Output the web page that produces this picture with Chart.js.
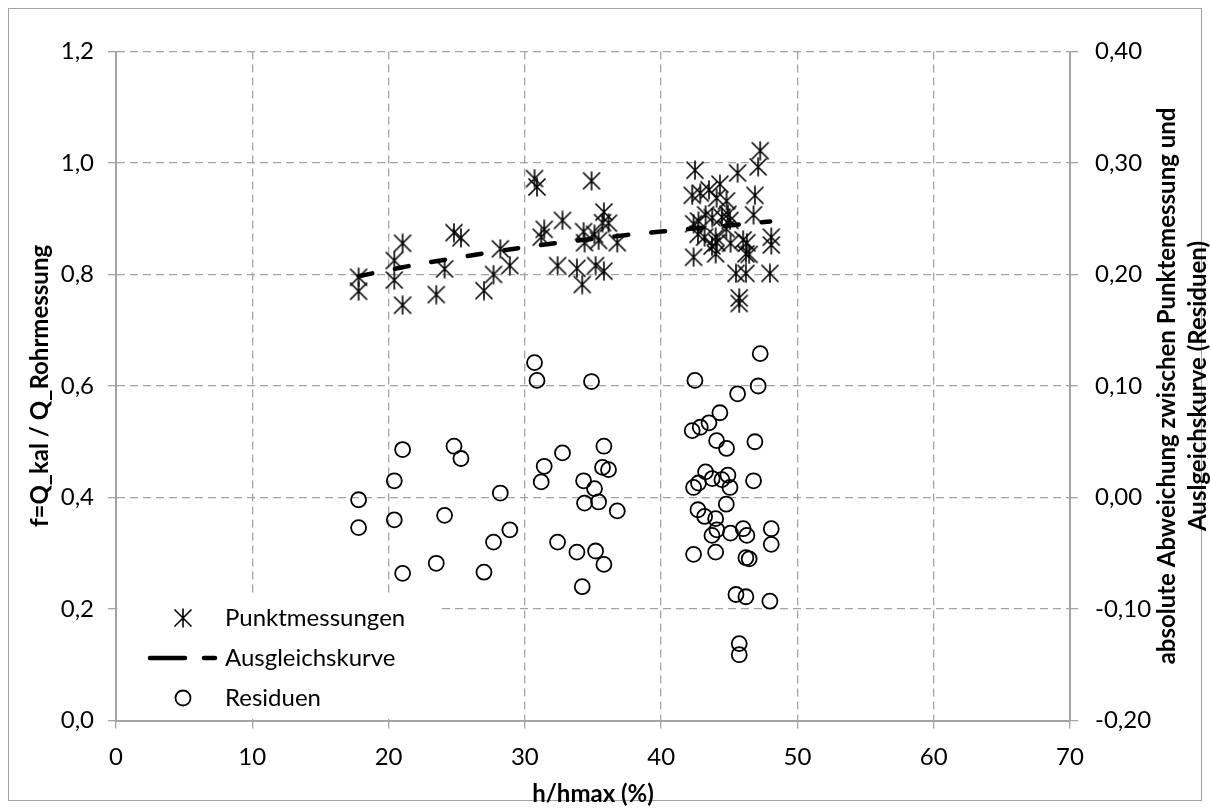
<!DOCTYPE html>
<html>
<head>
<meta charset="utf-8">
<script src="https://cdn.jsdelivr.net/npm/chart.js@4.4.1/dist/chart.umd.min.js"></script>
<style>
  html, body { margin: 0; padding: 0; background: #fff; }
  #wrap { width: 1210px; height: 809px; position: relative; }
</style>
</head>
<body>
<div id="wrap"><canvas id="fChart" width="1210" height="809"></canvas></div>
<script>
// h/hmax (%) der Messungen
const hWerte = [
  30.71, 30.89, 21.03, 24.80, 25.31, 20.42, 17.80, 17.80, 20.42, 24.11,
  28.20, 28.90, 27.70, 21.03, 23.50, 27.00, 31.42, 31.20, 32.76, 32.40,
  34.89, 35.80, 35.70, 36.14, 34.31, 35.11, 34.38, 35.41, 36.78, 33.82,
  35.19, 35.80, 34.21,
  42.48, 47.27, 47.12, 45.61, 44.31, 42.28, 42.87, 43.51, 44.07, 44.80, 46.88,
  43.26, 42.38, 42.74, 43.75, 44.46, 44.90, 45.05, 46.78, 44.78, 42.70,
  43.19, 44.00, 44.09, 43.73, 45.09, 46.02, 46.29, 48.08, 48.08, 42.38,
  44.00, 46.22, 46.46, 45.49, 46.22, 47.98, 45.73, 45.73
];
// f = Q_kal / Q_Rohrmessung
const fWerte = [
  0.972, 0.957, 0.856, 0.875, 0.866, 0.825, 0.795, 0.770, 0.790, 0.810,
  0.846, 0.816, 0.800, 0.745, 0.764, 0.771, 0.881, 0.867, 0.897, 0.816,
  0.968, 0.912, 0.893, 0.892, 0.877, 0.872, 0.857, 0.861, 0.857, 0.811,
  0.816, 0.806, 0.782,
  0.987, 1.022, 0.993, 0.982, 0.962, 0.942, 0.946, 0.952, 0.937, 0.932, 0.942,
  0.907, 0.891, 0.896, 0.902, 0.903, 0.908, 0.897, 0.907, 0.882, 0.872,
  0.867, 0.867, 0.857, 0.851, 0.856, 0.862, 0.857, 0.867, 0.853, 0.831,
  0.837, 0.837, 0.836, 0.802, 0.802, 0.802, 0.758, 0.748
];
// Residuen (rechte Achse)
const residuen = [
  0.121, 0.105, 0.043, 0.046, 0.035, 0.015, -0.002, -0.027, -0.020, -0.016,
  0.004, -0.029, -0.040, -0.068, -0.059, -0.067, 0.028, 0.014, 0.040, -0.040,
  0.104, 0.046, 0.027, 0.025, 0.015, 0.008, -0.005, -0.004, -0.012, -0.049,
  -0.048, -0.060, -0.080,
  0.105, 0.129, 0.100, 0.093, 0.076, 0.060, 0.063, 0.067, 0.051, 0.044, 0.050,
  0.023, 0.009, 0.013, 0.017, 0.016, 0.020, 0.009, 0.015, -0.006, -0.011,
  -0.017, -0.019, -0.029, -0.034, -0.032, -0.028, -0.034, -0.028, -0.042, -0.051,
  -0.049, -0.054, -0.055, -0.087, -0.089, -0.093, -0.131, -0.141
];
// Ausgleichskurve
const kurveX = [17.8, 20, 22.5, 25, 27.5, 30, 32.5, 35, 37.5, 40, 42.5, 45, 48];
const kurveY = [0.797, 0.808, 0.820, 0.830, 0.840, 0.849, 0.857, 0.864, 0.871, 0.877, 0.883, 0.888, 0.895];

const legendeTexte = ['Punktmessungen', 'Ausgleichskurve', 'Residuen'];
const xTitel = 'h/hmax (%)';
const yTitel = 'f=Q_kal / Q_Rohrmessung';
const y2Titel = ['absolute Abweichung zwischen Punktemessung und', 'Auslgeichskurve (Residuen)'];

const FONT = 'Lato';
const GRAU = '#a3a3a3';

// Excel-Sternmarker: X mit senkrechtem Strich
function sternMarker() {
  const c = document.createElement('canvas');
  c.width = 20; c.height = 20;
  const g = c.getContext('2d');
  g.strokeStyle = '#000';
  g.lineWidth = 1.6;
  g.beginPath();
  g.moveTo(1.5, 1.5); g.lineTo(18.5, 18.5);
  g.moveTo(18.5, 1.5); g.lineTo(1.5, 18.5);
  g.moveTo(10, 0.5); g.lineTo(10, 19.5);
  g.stroke();
  return c;
}
const stern = sternMarker();

const komma = (v, d) => v.toFixed(d).replace('.', ',');

/* ───────── Legende unten links im Diagramm ───────── */
const legende = {
  id: 'legende',
  afterDraw(chart) {
    const { ctx, chartArea } = chart;
    ctx.save();
    ctx.fillStyle = '#fff';
    ctx.fillRect(chartArea.left + 1.5, 594, 436 - chartArea.left, chartArea.bottom - 595.5);

    const mx = 183, tx = 225, ys = [618, 658, 698];
    ctx.drawImage(stern, mx - 10, ys[0] - 10);

    ctx.strokeStyle = '#000';
    ctx.lineWidth = 4.5;
    ctx.lineCap = 'round';
    ctx.setLineDash([35, 19]);
    ctx.beginPath();
    ctx.moveTo(150, ys[1]); ctx.lineTo(215, ys[1]);
    ctx.stroke();
    ctx.setLineDash([]);

    ctx.lineWidth = 1.8;
    ctx.beginPath();
    ctx.arc(mx, ys[2], 7.5, 0, Math.PI * 2);
    ctx.stroke();

    ctx.fillStyle = '#000';
    ctx.font = '24px ' + FONT;
    ctx.textBaseline = 'middle';
    legendeTexte.forEach((t, i) => ctx.fillText(t, tx, ys[i]));
    ctx.restore();
  }
};

/* ───────── rechter Achsentitel (zweizeilig, von unten nach oben) ───────── */
const rechterTitel = {
  id: 'rechterTitel',
  afterDraw(chart) {
    const { ctx, chartArea } = chart;
    const cy = (chartArea.top + chartArea.bottom) / 2;
    ctx.save();
    ctx.font = 'bold 24px ' + FONT;
    ctx.fillStyle = '#000';
    ctx.textAlign = 'center';
    ctx.textBaseline = 'middle';
    y2Titel.forEach((zeile, i) => {
      ctx.save();
      ctx.translate(1167 + i * 31, cy);
      ctx.rotate(-Math.PI / 2);
      ctx.fillText(zeile, 0, 0);
      ctx.restore();
    });
    ctx.restore();
  }
};

const rahmen = {
  id: 'rahmen',
  beforeDraw(chart) {
    const ctx = chart.ctx;
    ctx.save();
    ctx.strokeStyle = GRAU;
    ctx.lineWidth = 1;
    ctx.strokeRect(8.5, 8.5, 1193, 792);
    ctx.restore();
  }
};

const achse = (extra) => Object.assign({
  grid: { color: GRAU, lineWidth: 1.3, tickLength: 8 },
  border: { color: GRAU, width: 2, dash: [8, 5] },
  ticks: { color: '#000', font: { family: FONT, size: 24 } }
}, extra);

new Chart(document.getElementById('fChart'), {
  type: 'scatter',
  data: {
    datasets: [
      {
        label: legendeTexte[0],
        data: hWerte.map((h, i) => ({ x: h, y: fWerte[i] })),
        pointStyle: stern,
        pointRadius: 10,
        order: 2
      },
      {
        label: legendeTexte[1],
        type: 'line',
        data: kurveX.map((h, i) => ({ x: h, y: kurveY[i] })),
        borderColor: '#000',
        borderWidth: 4.5,
        borderDash: [14, 23],
        borderCapStyle: 'round',
        pointRadius: 0,
        fill: false,
        tension: 0,
        order: 1
      },
      {
        label: legendeTexte[2],
        data: hWerte.map((h, i) => ({ x: h, y: residuen[i] })),
        yAxisID: 'y2',
        pointStyle: 'circle',
        pointRadius: 7.5,
        borderColor: '#000',
        borderWidth: 1.8,
        backgroundColor: 'rgba(0,0,0,0)',
        order: 3
      }
    ]
  },
  options: {
    responsive: false,
    animation: false,
    events: [],
    layout: { padding: { top: 51.5, left: 0, right: 0, bottom: 0 } },
    plugins: { legend: { display: false }, tooltip: { enabled: false } },
    scales: {
      x: achse({
        type: 'linear', min: 0, max: 70,
        ticks: { color: '#000', font: { family: FONT, size: 24 }, stepSize: 10, padding: 14 },
        title: { display: true, text: xTitel, color: '#000', font: { family: FONT, size: 24, weight: 'bold' }, padding: { top: 0, bottom: 0 } },
        afterFit: s => { s.height = 88.5; }
      }),
      y: achse({
        position: 'left', min: 0, max: 1.2,
        ticks: { color: '#000', font: { family: FONT, size: 24 }, stepSize: 0.2, padding: 14, callback: v => komma(v, 1) },
        title: { display: true, text: yTitel, color: '#000', font: { family: FONT, size: 24, weight: 'bold' }, padding: { top: 26, bottom: 0 } },
        afterFit: s => { s.width = 116; }
      }),
      y2: achse({
        position: 'right', min: -0.2, max: 0.4,
        grid: { color: GRAU, lineWidth: 1.3, tickLength: 8, drawOnChartArea: false },
        ticks: { color: '#000', font: { family: FONT, size: 24 }, stepSize: 0.1, padding: 17, callback: v => komma(v, 2) },
        afterFit: s => { s.width = 140; }
      })
    }
  },
  plugins: [legende, rechterTitel, rahmen]
});
</script>
</body>
</html>
